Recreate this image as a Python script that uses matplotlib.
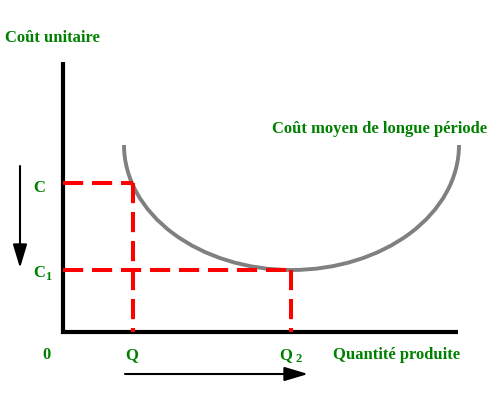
import matplotlib
matplotlib.use('Agg')
import matplotlib.pyplot as plt
from matplotlib.patches import Arc

# values (arbitrary units, origin at axes crossing)
q_levels = [70.5, 228.5]          # Q, Q2
c_levels = [149, 62]              # C, C1
curve_center = (229, 187)
curve_size = (335, 250)
axis_ends = (395.5, 270)

green = '#008000'
red = '#ff0000'
font = dict(family='Liberation Serif', weight='bold', color=green)

fig = plt.figure(figsize=(5, 4.17), dpi=100)
ax = fig.add_axes([0, 0, 1, 1])
ax.set_xlim(-62.5, 437.5)
ax.set_ylim(-85, 332)
ax.axis('off')

# axes lines
ax.plot([0, 0], [-2, axis_ends[1]], color='black', lw=3, solid_capstyle='butt')
ax.plot([-2, axis_ends[0]], [0, 0], color='black', lw=3, solid_capstyle='butt')

# long-run average cost curve (lower half of an ellipse)
arc = Arc(curve_center, curve_size[0], curve_size[1], theta1=180, theta2=360,
          color='#808080', lw=2.8)
ax.add_patch(arc)

# red dashed guides
for q, c in zip(q_levels, c_levels):
    ax.plot([0, q], [c, c], color=red, lw=2.9, dashes=(5, 2.2), dash_capstyle='butt')
    ax.plot([q, q], [c, 0], color=red, lw=2.9, dashes=(5, 2.2), dash_capstyle='butt')

# arrows
arrow = dict(arrowstyle='-|>,head_length=0.8,head_width=0.24', mutation_scale=18,
             color='black', lw=1.5, shrinkA=0, shrinkB=0)
ax.annotate('', xy=(-42.5, 64), xytext=(-42.5, 166), arrowprops=arrow)
ax.annotate('', xy=(245.5, -42), xytext=(62.5, -42), arrowprops=arrow)

# labels
ax.text(-57.5, 290, 'Coût unitaire', fontsize=12, va='baseline', **font)
ax.text(209.5, 199, 'Coût moyen de longue période', fontsize=12, va='baseline', **font)
ax.text(-29.5, 140, 'C', fontsize=12, va='baseline', **font)
ax.text(-29.5, 55, 'C', fontsize=12, va='baseline', **font)
ax.text(-17, 52, '1', fontsize=9, va='baseline', **font)
ax.text(-20.5, -27, '0', fontsize=12, va='baseline', **font)
ax.text(q_levels[0] - 8, -27, 'Q', fontsize=12, va='baseline', **font)
ax.text(q_levels[1] - 12, -27, 'Q', fontsize=12, va='baseline', **font)
ax.text(q_levels[1] + 4.5, -30, '2', fontsize=9, va='baseline', **font)
ax.text(270.5, -27, 'Quantité produite', fontsize=12, va='baseline', **font)

fig.savefig('out.png', dpi=100)
